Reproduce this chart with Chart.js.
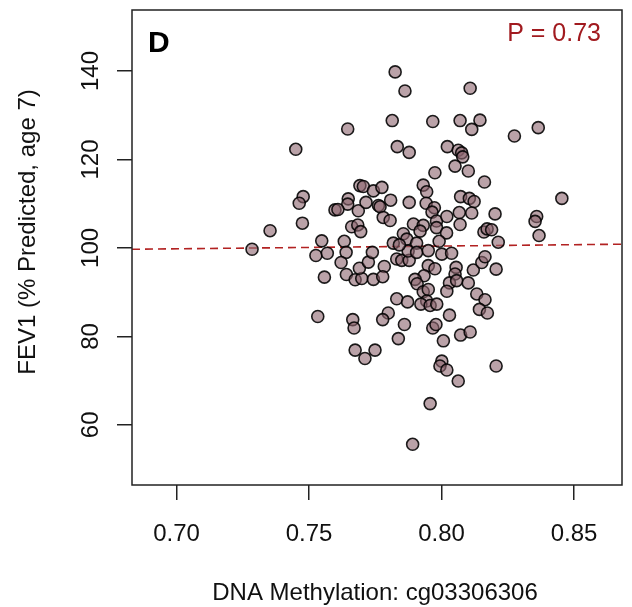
<!DOCTYPE html>
<html>
<head>
<meta charset="utf-8">
<script src="https://cdn.jsdelivr.net/npm/chart.js@4.4.1/dist/chart.umd.min.js"></script>
<style>
  html, body { margin: 0; padding: 0; background: #fff; }
  #c { display: block; }
</style>
</head>
<body>
<canvas id="c" width="632" height="607"></canvas>
<script>
// ---- Data ----
const methylation = [0.7825,0.7862,0.8108,0.7814,0.7967,0.807,0.8145,0.8114,0.8275,0.8365,0.7646,
0.745,0.7833,0.7878,0.8022,0.8063,0.8076,0.808,0.8051,0.7975,0.8101,0.8162,0.7692,0.7705,0.7743,0.7775,0.7931,0.7944,0.8454,0.7478,0.7463,0.7648,0.7646,0.7598,0.7609,0.7686,0.7715,0.7762,0.7768,0.7808,0.7878,0.7942,0.7973,0.8072,0.8105,0.8123,0.8067,0.8114,0.8202,0.7964,
0.7353,0.7475,0.7285,0.7548,0.7526,0.7569,0.7558,0.7633,0.764,0.7621,0.7641,0.7674,0.7699,0.769,0.7724,0.7739,0.7661,0.7684,0.7695,0.7784,0.778,0.7806,0.7818,0.7856,0.7869,0.7831,0.785,0.7878,0.7894,0.7931,0.7919,0.7874,0.7906,0.7906,0.795,0.7841,0.7981,0.7981,0.802,0.8019,0.7991,0.8001,0.8038,0.807,0.795,0.7975,0.7934,0.8055,0.8051,0.812,0.8152,0.816,0.8172,0.8189,0.8214,0.8368,0.8359,0.8353,0.8164,0.8206,0.7743,0.7778,0.79,0.7908,
0.803,0.802,0.8057,0.8101,0.8133,0.8164,0.8143,0.8173,0.7931,0.795,0.7944,0.7922,0.7957,0.7982,0.7831,0.7872,0.803,0.7799,0.7778,0.786,0.7967,0.7979,0.8072,0.8108,0.7837,0.8007,0.7533,0.7665,0.767,
0.7674,0.7711,0.7749,0.8001,0.7994,0.802,0.8063,0.7957,0.7891,0.8206];

const fev1 = [139.8,135.5,136.1,128.8,128.6,128.8,128.9,126.8,125.3,127.2,126.9,
122.3,122.9,121.6,122.9,122.1,121.5,120.6,118.5,117.0,117.4,114.9,114.1,113.9,112.9,113.7,114.2,112.7,111.2,111.6,110.1,111.1,109.9,108.6,108.7,108.4,110.3,109.6,109.3,110.8,110.3,110.1,109.1,111.6,111.2,110.5,108.0,107.9,107.7,108.1,
103.9,105.6,99.7,101.6,98.3,98.8,93.4,101.5,99.0,96.7,94.0,92.8,93.1,95.4,96.8,99.0,104.8,105.2,103.7,95.8,106.9,106.2,101.1,103.2,102.0,97.5,97.2,97.2,105.4,105.1,103.8,99.3,101.1,99.0,99.4,100.7,106.1,104.6,107.1,103.4,101.5,98.6,98.8,105.3,96.0,95.3,93.7,95.6,94.1,95.0,96.7,103.6,104.3,104.1,101.3,102.8,107.1,106.0,98.0,95.2,92.9,93.5,92.9,91.9,
92.1,90.2,92.6,92.1,89.6,88.3,86.1,85.3,90.1,90.6,88.0,87.3,87.0,87.3,88.5,87.8,84.8,85.3,83.8,82.7,81.9,82.7,80.3,81.0,79.5,79.0,84.5,83.8,81.9,
76.9,75.0,76.9,74.4,73.3,72.4,69.9,64.8,55.6,73.3];

// fitted regression line end points (data space)
const fitX = [0.6832, 0.8681];
const fitY = [99.7, 100.85];

const xTicks = [0.70, 0.75, 0.80, 0.85];
const yTicks = [60, 80, 100, 120, 140];
const xRange = [0.6832, 0.8681];
const yRange = [46.4, 153.8];

const xTitle = "DNA Methylation: cg03306306";
const yTitle = "FEV1 (% Predicted, age 7)";
const panelLabel = "D";
const pLabel = "P = 0.73";

const FONT = "'Liberation Sans', Arial, Helvetica, sans-serif";

const points = methylation.map((x, i) => ({ x: x, y: fev1[i] }));
const fitLine = fitX.map((x, i) => ({ x: x, y: fitY[i] }));

const decor = {
  id: 'decor',
  afterDraw(chart) {
    const ctx = chart.ctx;
    const a = chart.chartArea;
    const ys = chart.scales.y;
    ctx.save();
    // box
    ctx.strokeStyle = '#222';
    ctx.lineWidth = 1.5;
    ctx.strokeRect(a.left, a.top, a.right - a.left, a.bottom - a.top);
    // y tick labels rotated
    ctx.fillStyle = '#111';
    ctx.font = '24px ' + FONT;
    ctx.textAlign = 'center';
    ctx.textBaseline = 'alphabetic';
    yTicks.forEach(v => {
      const py = ys.getPixelForValue(v);
      ctx.save();
      ctx.translate(98, py);
      ctx.rotate(-Math.PI / 2);
      ctx.fillText(String(v), 0, 0);
      ctx.restore();
    });
    // y title
    ctx.save();
    ctx.translate(35, 232);
    ctx.rotate(-Math.PI / 2);
    ctx.fillText(yTitle, 0, 0);
    ctx.restore();
    // x title
    ctx.fillText(xTitle, 375, 600);
    // panel label
    ctx.font = 'bold 30px ' + FONT;
    ctx.textAlign = 'left';
    ctx.fillStyle = '#000';
    ctx.fillText(panelLabel, 148, 52);
    // P value
    ctx.font = '25px ' + FONT;
    ctx.textAlign = 'right';
    ctx.fillStyle = '#a11a1f';
    ctx.fillText(pLabel, 601, 41);
    ctx.restore();
  }
};

new Chart(document.getElementById('c'), {
  type: 'scatter',
  data: {
    datasets: [
      {
        type: 'line',
        data: fitLine,
        borderColor: '#b22222',
        borderWidth: 1.6,
        borderDash: [8, 5],
        pointRadius: 0,
        fill: false,
        order: 2
      },
      {
        data: points,
        backgroundColor: 'rgba(140,100,110,0.6)',
        borderColor: 'rgba(0,0,0,0.88)',
        borderWidth: 1.6,
        pointRadius: 6,
        pointHoverRadius: 6,
        order: 1
      }
    ]
  },
  options: {
    responsive: false,
    animation: false,
    events: [],
    layout: { padding: { top: 10, right: 10, left: 0, bottom: 0 } },
    plugins: { legend: { display: false }, tooltip: { enabled: false } },
    scales: {
      x: {
        type: 'linear',
        min: xRange[0],
        max: xRange[1],
        afterBuildTicks: s => { s.ticks = xTicks.map(v => ({ value: v })); },
        afterFit: s => { s.height = 122; },
        border: { display: false },
        grid: { drawOnChartArea: false, drawTicks: true, tickLength: 15, color: '#222', lineWidth: 1.5 },
        ticks: {
          color: '#111',
          font: { size: 24, family: FONT },
          padding: 20,
          maxRotation: 0,
          minRotation: 0,
          callback: v => v.toFixed(2)
        }
      },
      y: {
        type: 'linear',
        min: yRange[0],
        max: yRange[1],
        afterBuildTicks: s => { s.ticks = yTicks.map(v => ({ value: v })); },
        afterFit: s => { s.width = 132; },
        border: { display: false },
        grid: { drawOnChartArea: false, drawTicks: true, tickLength: 15, color: '#222', lineWidth: 1.5 },
        ticks: { display: false }
      }
    }
  },
  plugins: [decor]
});
</script>
</body>
</html>
